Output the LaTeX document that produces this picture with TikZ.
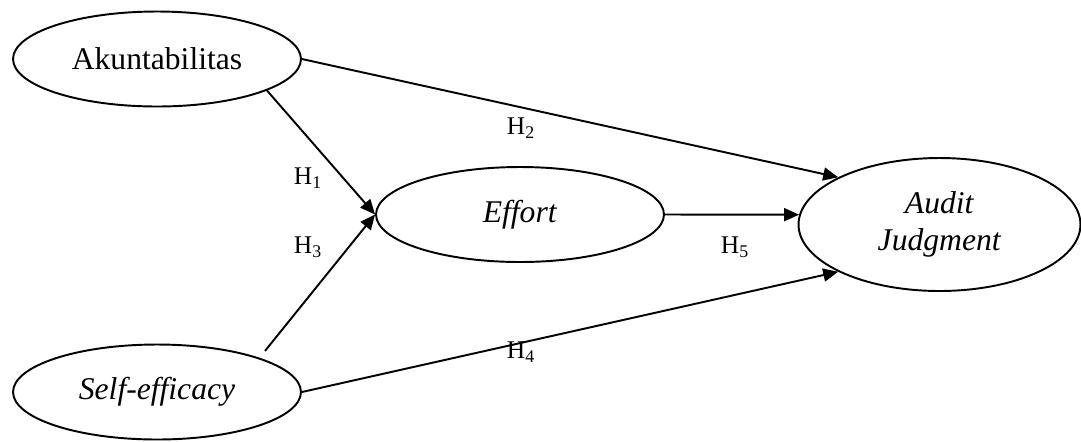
\documentclass[tikz,border=0pt]{standalone}
\usepackage{fontspec}
\setmainfont{Liberation Serif}
\usepackage{tikz}
\usetikzlibrary{arrows.meta,positioning,shapes}

\begin{document}
\begin{tikzpicture}[
    x=0.02cm, y=-0.02cm,
    var/.style={draw, ellipse, line width=1.1pt, inner sep=0pt, minimum width=5.76cm, minimum height=1.9cm, align=center, font=\fontsize{18}{21}\selectfont},
    path/.style={line width=1.1pt, -{Triangle[length=0.3cm, width=0.26cm]}},
    hyp/.style={font=\fontsize{14.5}{17}\selectfont, inner sep=0pt},
]
\useasboundingbox (0,0) rectangle (1081,441);

\node[var] (akun) at (157,59) {Akuntabilitas};
\node[var] (effort) at (520,214.5) {\textit{Effort}};
\node[var, minimum width=5.64cm, minimum height=2.66cm] (audit) at (939.5,224.5) {\textit{Audit}\\\textit{Judgment}};
\node[var] (self) at (157,392) {\textit{Self-efficacy}};

\draw[path] (akun.east) -- (audit.155);
\draw[path] (akun.-16) -- (effort.west);
\draw[path, shorten <=5pt] (self.north east) -- (effort.west);
\draw[path] (effort.east) -- (audit.176);
\draw[path] (self.east) -- (audit.205);

\node[hyp] (h1) at (308,178) {H\textsubscript{1}};
\node[hyp] (h2) at (521,128) {H\textsubscript{2}};
\node[hyp] (h3) at (308,247) {H\textsubscript{3}};
\node[hyp] (h4) at (521,352) {H\textsubscript{4}};
\node[hyp] (h5) at (735,247) {H\textsubscript{5}};
\end{tikzpicture}
\end{document}
